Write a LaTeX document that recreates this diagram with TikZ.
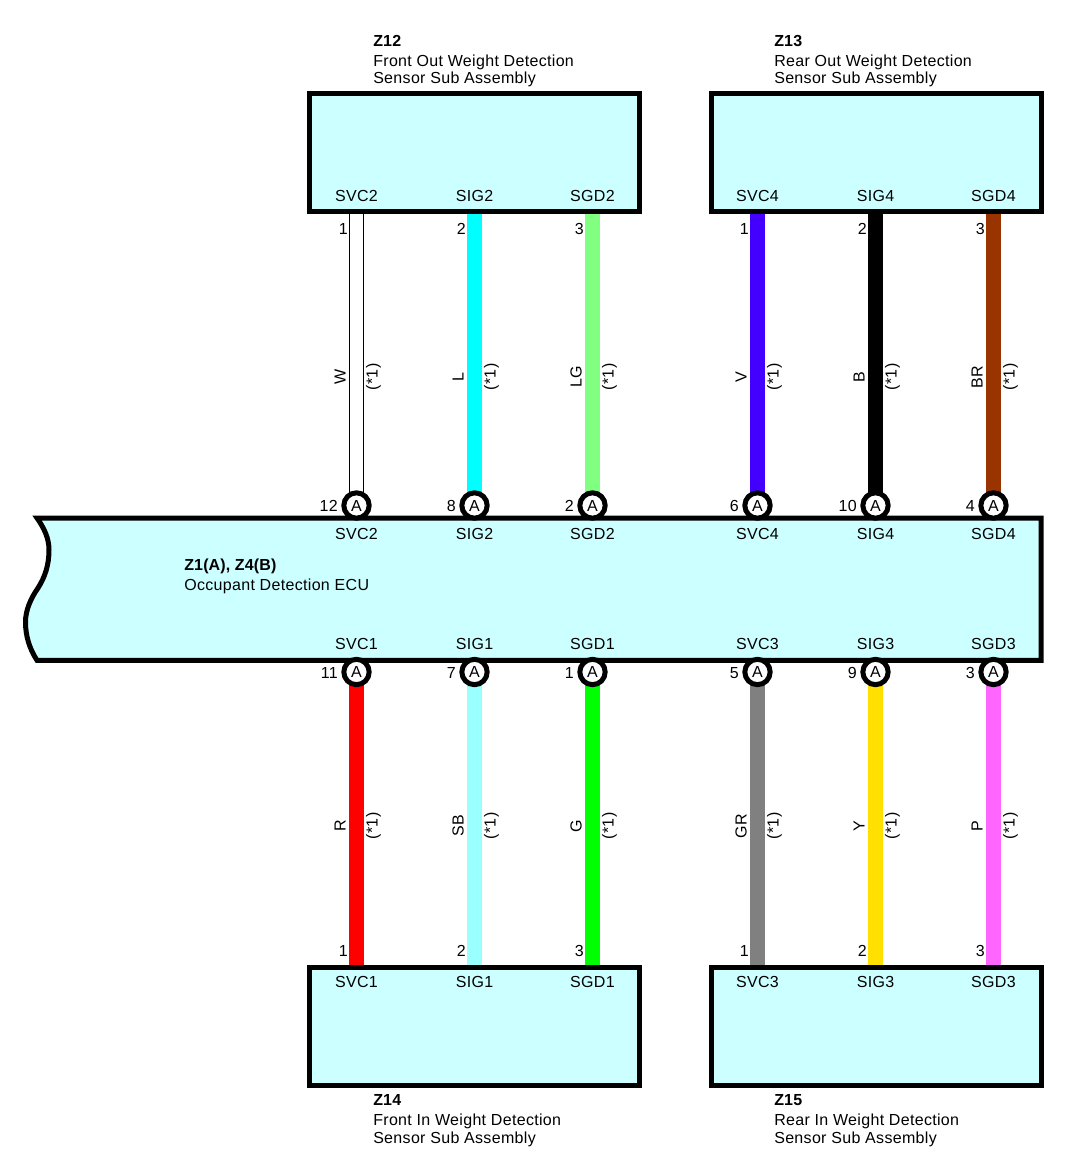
\documentclass[tikz,border=0pt]{standalone}
\usepackage{fontspec}
\setmainfont[LetterSpace=2]{Liberation Sans}
\newfontfamily\zfont[LetterSpace=1]{Liberation Sans}
\usetikzlibrary{backgrounds}

\definecolor{boxcyan}{RGB}{204,255,255}
\definecolor{wireL}{RGB}{0,255,255}
\definecolor{wireLG}{RGB}{128,255,128}
\definecolor{wireV}{RGB}{68,0,255}
\definecolor{wireB}{RGB}{0,0,0}
\definecolor{wireBR}{RGB}{153,51,0}
\definecolor{wireR}{RGB}{255,0,0}
\definecolor{wireSB}{RGB}{153,255,255}
\definecolor{wireG}{RGB}{0,255,0}
\definecolor{wireGR}{RGB}{128,128,128}
\definecolor{wireY}{RGB}{255,224,0}
\definecolor{wireP}{RGB}{255,102,255}

\tikzset{
  partbox/.style={draw=black,fill=boxcyan,line width=3.75pt,minimum width=247.5pt,minimum height=88.5pt,inner sep=0pt},
  pinmark/.style={circle,draw=black,fill=white,line width=3.75pt,minimum size=19pt,inner sep=0pt,font=\fontsize{12}{12}\selectfont},
  wire/.style={line width=11.25pt,draw=#1},
  wirew/.style={line width=.75pt,draw=black,double=white,double distance=9.75pt},
  txt/.style={inner sep=0pt,anchor=base,font=\fontsize{12}{12}\selectfont},
  capt/.style={txt,anchor=base west},
  capb/.style={capt,font=\zfont\fontsize{12}{12}\selectfont\bfseries},
  numb/.style={txt,anchor=base east},
  wlab/.style={txt,rotate=90}
}

\begin{document}
\begin{tikzpicture}[x=0.75pt,y=0.75pt,yscale=-1]
\useasboundingbox (0,0) rectangle (1068,1170);

%ECU body
\draw [fill=boxcyan,line width=3.75pt,line join=miter] (37,518) -- (1041,518) -- (1041,660.3) -- (37,660.3) .. controls (29,648) and (25.5,635) .. (25.5,622) .. controls (25.5,610) and (31,598) .. (38,588) .. controls (45,577) and (49,565) .. (49,550) .. controls (49,538) and (44,528) .. (37,518) -- cycle ;
\node [capb] (ecuname) at (184,570) {Z1(A), Z4(B)};
\node [capt] (ecutext) at (184,590.5) {Occupant Detection ECU};

%Part boxes
\node [partbox] (boxA) at (474.5,152.5) {};
\node [partbox] (boxB) at (876,152.5) {};
\node [partbox] (boxC) at (474.5,1026) {};
\node [partbox] (boxD) at (876,1026) {};

%Box captions
\foreach \nm/\cx/\ya/\yb/\yc/\za/\zb/\zc in {
  A/373/46.5/66.5/84/Z12/Front Out Weight Detection/Sensor Sub Assembly,
  B/774/46.5/66.5/84/Z13/Rear Out Weight Detection/Sensor Sub Assembly,
  C/373/1105.5/1125.5/1143/Z14/Front In Weight Detection/Sensor Sub Assembly,
  D/774/1105.5/1125.5/1143/Z15/Rear In Weight Detection/Sensor Sub Assembly}{
  \node [capb] (name\nm) at (\cx,\ya) {\za};
  \node [capt] (texta\nm) at (\cx,\yb) {\zb};
  \node [capt] (textb\nm) at (\cx,\yc) {\zc};
}

%Upper pins and their labels
\foreach \k/\cx/\sg/\na/\nb/\wl in {
  1/356.5/SVC2/1/12/W,
  2/474.5/SIG2/2/8/L,
  3/592.5/SGD2/3/2/LG,
  4/757.5/SVC4/1/6/V,
  5/875.5/SIG4/2/10/B,
  6/993.5/SGD4/3/4/BR}{
  \node [pinmark] (pinT\k) at (\cx,505.5) {A};
  \node [txt] (sigT\k) at (\cx,201) {\sg};
  \node [txt] (ecuT\k) at (\cx,539) {\sg};
  \node [numb] (numT\k) at (\cx-8.5,234) {\na};
  \node [numb] (numU\k) at (\cx-18.5,511) {\nb};
  \node [wlab] (wlabT\k) at (\cx-11,377) {\wl};
  \node [wlab] (starT\k) at (\cx+21,377) {(*1)};
}

%Lower pins and their labels
\foreach \k/\cx/\sg/\na/\nb/\wl in {
  1/356.5/SVC1/1/11/R,
  2/474.5/SIG1/2/7/SB,
  3/592.5/SGD1/3/1/G,
  4/757.5/SVC3/1/5/GR,
  5/875.5/SIG3/2/9/Y,
  6/993.5/SGD3/3/3/P}{
  \node [pinmark] (pinB\k) at (\cx,672) {A};
  \node [txt] (sigB\k) at (\cx,987) {\sg};
  \node [txt] (ecuB\k) at (\cx,649) {\sg};
  \node [numb] (numB\k) at (\cx-8.5,956) {\na};
  \node [numb] (numV\k) at (\cx-18.5,678) {\nb};
  \node [wlab] (wlabB\k) at (\cx-11,826) {\wl};
  \node [wlab] (starB\k) at (\cx+21,826) {(*1)};
}

%Wires, behind the boxes and pins
\begin{scope}[on background layer]
\draw [wirew] (pinT1.center) -- (pinT1.center |- boxA.center);
\foreach \k/\bx/\wc in {2/A/wireL,3/A/wireLG,4/B/wireV,5/B/wireB,6/B/wireBR}{
  \draw [wire=\wc] (pinT\k.center) -- (pinT\k.center |- box\bx.center);
}
\foreach \k/\bx/\wc in {1/C/wireR,2/C/wireSB,3/C/wireG,4/D/wireGR,5/D/wireY,6/D/wireP}{
  \draw [wire=\wc] (pinB\k.center) -- (pinB\k.center |- box\bx.center);
}
\end{scope}

\end{tikzpicture}
\end{document}
